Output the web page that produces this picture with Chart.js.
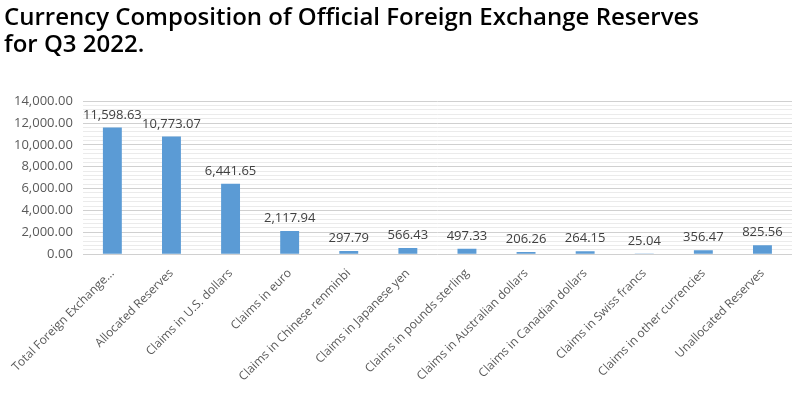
<!DOCTYPE html>
<html>
<head>
<meta charset="utf-8">
<script src="https://cdn.jsdelivr.net/npm/chart.js@4/dist/chart.umd.min.js"></script>
<style>
html,body{margin:0;padding:0;background:#fff;}
#wrap{position:relative;width:800px;height:394px;}
</style>
</head>
<body>
<div id="wrap"><canvas id="c" width="800" height="394"></canvas></div>
<script>
const titleLines = ["Currency Composition of Official Foreign Exchange Reserves", "for Q3 2022."];
const categories = [
  "Total Foreign Exchange...",
  "Allocated Reserves",
  "Claims in U.S. dollars",
  "Claims in euro",
  "Claims in Chinese renminbi",
  "Claims in Japanese yen",
  "Claims in pounds sterling",
  "Claims in Australian dollars",
  "Claims in Canadian dollars",
  "Claims in Swiss francs",
  "Claims in other currencies",
  "Unallocated Reserves"
];
const values = [11598.63, 10773.07, 6441.65, 2117.94, 297.79, 566.43, 497.33, 206.26, 264.15, 25.04, 356.47, 825.56];

const fmt = v => v.toLocaleString('en-US', {minimumFractionDigits: 2, maximumFractionDigits: 2});

const labelPlugin = {
  id: 'barLabels',
  afterDatasetsDraw(chart) {
    const ctx = chart.ctx;
    const meta = chart.getDatasetMeta(0);
    ctx.save();
    ctx.font = '13px "Open Sans", sans-serif';
    ctx.fillStyle = '#404040';
    ctx.textAlign = 'center';
    ctx.textBaseline = 'bottom';
    meta.data.forEach((bar, i) => {
      ctx.fillText(fmt(values[i]), bar.x, bar.y - 6);
    });
    ctx.restore();
  }
};

new Chart(document.getElementById('c'), {
  type: 'bar',
  data: {
    labels: categories,
    datasets: [{
      data: values,
      backgroundColor: '#5b9bd5',
      borderWidth: 0,
      barPercentage: 0.64,
      categoryPercentage: 0.5
    }]
  },
  options: {
    responsive: false,
    animation: false,
    devicePixelRatio: 1,
    layout: {padding: {left: 4, right: 8, top: 0, bottom: 6}},
    plugins: {
      legend: {display: false},
      tooltip: {enabled: false},
      title: {
        display: true,
        text: titleLines,
        align: 'start',
        color: '#000',
        font: {family: '"Open Sans", sans-serif', size: 24, weight: '600', lineHeight: 1.15},
        padding: {top: 4, bottom: 42}
      }
    },
    scales: {
      x: {
        grid: {display: false},
        border: {display: false},
        ticks: {
          color: '#595959',
          font: {family: '"Open Sans", sans-serif', size: 12},
          maxRotation: 45,
          minRotation: 45,
          autoSkip: false,
          padding: 4
        }
      },
      y: {
        min: 0,
        max: 14000,
        border: {display: false},
        grid: {
          color: ctx => (ctx.tick && ctx.tick.value % 2000 === 0) ? '#d0d0d0' : '#ebebeb',
          lineWidth: 1,
          drawTicks: false
        },
        ticks: {
          stepSize: 400,
          autoSkip: false,
          color: '#595959',
          font: {family: '"Open Sans", sans-serif', size: 13},
          padding: 10,
          callback: v => (v % 2000 === 0) ? fmt(v) : ''
        }
      }
    }
  },
  plugins: [labelPlugin]
});
</script>
</body>
</html>
